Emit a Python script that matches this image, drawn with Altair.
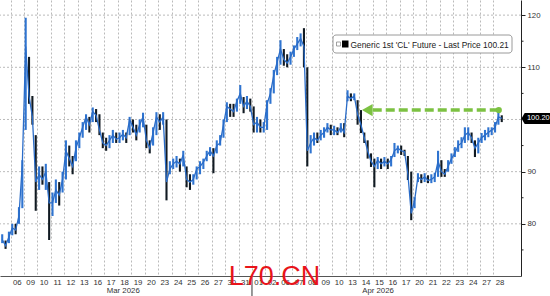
import altair as alt
import pandas as pd

# ---------------- data ----------------
day_labels = ["06", "09", "10", "11", "12", "13", "16", "17", "18", "19", "20", "23", "24", "25",
              "26", "27", "30", "31", "01", "02", "06", "07", "08", "09", "10", "13", "14", "15",
              "16", "17", "20", "21", "22", "23", "24", "27", "28"]
month_labels = ["Mar 2026", "Apr 2026"]
month_centers = [8.4, 27.4]      # trading-day units
month_start = [18]               # first trading day of April

# quarter-day bars, one row per trading day (first row: Mar 05, partly visible)
close_by_day = [
    [77.0, 75.8, 77.5],
    [79.2, 78.8, 81.5, 91.5],
    [114.0, 104.5, 100.5, 88.0],
    [89.5, 88.5, 90.0, 84.0],
    [84.0, 86.5, 85.5, 88.5],
    [94.0, 92.5, 91.0, 94.5],
    [96.5, 98.5, 100.5, 99.0],
    [101.5, 100.8, 98.0, 95.5],
    [95.0, 96.0, 97.0, 96.2],
    [96.5, 97.2, 96.5, 100.0],
    [98.5, 97.0, 99.0, 100.5],
    [96.0, 94.5, 97.5, 100.5],
    [99.5, 100.5, 88.0, 90.5],
    [91.5, 92.0, 91.5, 93.2],
    [88.5, 88.0, 88.5, 90.5],
    [91.0, 91.8, 93.0, 94.0],
    [93.0, 95.0, 95.5, 99.0],
    [102.5, 102.0, 101.5, 103.5],
    [105.0, 102.5, 103.5, 102.5],
    [99.0, 99.5, 98.5, 98.5],
    [103.0, 105.0, 108.5, 111.0],
    [113.5, 111.5, 110.8, 112.0],
    [113.5, 114.5, 115.5, 114.0],
    [94.0, 95.5, 96.5, 96.0],
    [97.0, 97.5, 98.5, 98.0],
    [98.0, 97.5, 98.5, 97.5],
    [104.5, 104.0, 104.5, 101.0],
    [99.0, 96.5, 94.0, 92.0],
    [91.0, 92.2, 91.5, 92.0],
    [91.5, 92.3, 94.0, 94.5],
    [94.0, 93.8, 89.5, 82.0],
    [84.5, 89.0, 88.5, 89.0],
    [88.3, 88.5, 89.0, 92.0],
    [90.0, 89.5, 91.0, 92.5],
    [93.5, 95.0, 95.5, 97.0],
    [97.5, 96.5, 94.5, 95.5],
    [96.5, 97.0, 97.5, 98.0],
    [98.5, 100.5, 100.2],
]
high_by_day = [
    [78.0, 76.8, 78.5],
    [80.0, 80.0, 83.2, 92.2],
    [119.5, 112.0, 104.5, 97.0],
    [91.0, 91.0, 91.5, 88.0],
    [86.0, 88.5, 88.0, 90.0],
    [96.0, 95.0, 93.0, 96.0],
    [97.5, 99.5, 101.0, 100.5],
    [102.3, 102.0, 101.0, 97.5],
    [96.5, 97.0, 98.0, 97.5],
    [97.5, 98.0, 97.5, 100.5],
    [100.0, 99.0, 100.0, 101.3],
    [99.0, 96.0, 98.5, 101.4],
    [101.0, 101.4, 100.0, 92.0],
    [92.5, 93.0, 92.5, 94.0],
    [91.0, 89.5, 89.5, 91.0],
    [92.0, 92.5, 94.0, 94.7],
    [94.5, 96.0, 97.0, 100.0],
    [103.3, 103.0, 103.0, 104.0],
    [106.6, 104.3, 104.5, 104.0],
    [102.5, 100.5, 100.0, 99.5],
    [103.7, 106.0, 109.5, 112.0],
    [115.2, 113.5, 112.5, 113.0],
    [114.2, 115.8, 116.5, 117.5],
    [110.0, 97.0, 97.5, 97.5],
    [98.0, 98.5, 99.3, 99.0],
    [98.8, 98.5, 99.3, 99.3],
    [105.6, 105.0, 105.0, 103.7],
    [101.8, 97.5, 96.0, 93.5],
    [92.5, 92.8, 92.5, 92.8],
    [92.5, 93.0, 95.5, 95.0],
    [95.0, 94.2, 93.0, 90.0],
    [85.1, 89.7, 89.5, 89.7],
    [89.3, 89.5, 89.8, 94.0],
    [92.2, 90.5, 92.2, 93.5],
    [94.7, 96.0, 96.6, 98.5],
    [98.5, 97.5, 96.0, 96.5],
    [97.4, 98.0, 98.5, 98.5],
    [99.5, 101.5, 100.8],
]
low_by_day = [
    [76.3, 75.2, 76.3],
    [77.8, 78.0, 80.0, 83.0],
    [98.0, 103.0, 99.0, 82.5],
    [86.5, 87.5, 86.5, 76.9],
    [81.5, 84.0, 83.5, 86.0],
    [88.5, 91.0, 89.5, 92.0],
    [94.5, 96.5, 98.0, 97.5],
    [99.5, 99.5, 97.0, 94.5],
    [94.0, 94.5, 95.5, 95.5],
    [95.5, 96.0, 95.5, 97.0],
    [97.5, 96.0, 97.5, 98.5],
    [94.5, 93.5, 95.0, 97.0],
    [98.0, 99.0, 84.5, 89.5],
    [90.5, 90.8, 90.0, 91.0],
    [87.0, 86.5, 87.5, 88.5],
    [89.5, 90.5, 92.0, 93.0],
    [89.7, 93.5, 95.0, 96.5],
    [99.5, 100.5, 100.5, 101.5],
    [103.0, 101.2, 102.0, 101.5],
    [97.5, 97.5, 97.5, 97.5],
    [98.0, 103.0, 105.0, 108.5],
    [110.5, 110.3, 110.0, 110.5],
    [112.0, 113.3, 114.0, 110.0],
    [91.0, 93.5, 95.0, 95.5],
    [96.0, 96.5, 97.5, 97.0],
    [97.0, 97.0, 97.5, 96.6],
    [103.5, 103.5, 103.7, 99.0],
    [97.4, 95.5, 92.5, 90.9],
    [87.0, 90.5, 90.5, 91.0],
    [90.5, 91.0, 92.8, 93.5],
    [93.2, 93.0, 88.4, 80.7],
    [83.0, 88.0, 87.8, 88.0],
    [87.8, 87.8, 88.0, 89.0],
    [89.0, 89.0, 90.0, 91.5],
    [92.8, 93.8, 94.5, 95.5],
    [96.0, 95.5, 92.8, 93.5],
    [95.5, 96.0, 96.6, 97.0],
    [97.5, 99.0, 99.5],
]

y_ticks = [80, 90, 110, 120]
y_minor = [75, 85, 95, 105, 115]
grid_levels = [80, 90, 100, 110, 120]
last_price = 100.20
legend_text = "Generic 1st 'CL' Future - Last Price 100.21"
arrow_from, arrow_to, arrow_level = 36.4, 26.6, 101.8
watermark = "L70.CN"

# ---------------- build table ----------------
rows = []
for d, (cs, hs, ls) in enumerate(zip(close_by_day, high_by_day, low_by_day)):
    day = d - 1
    first = 4 - len(cs) if d == 0 else 0
    for k, (c, h, l) in enumerate(zip(cs, hs, ls)):
        rows.append({"t": day + (first + k) * 0.25 + 0.125, "close": c, "high": h, "low": l})
df = pd.DataFrame(rows)
df["dir"] = ["up" if i == 0 or df.close[i] >= df.close[i - 1] else "down" for i in range(len(df))]

FONT = "Liberation Sans"
W, H = 521, 276
xs = alt.Scale(domain=[-0.79, 38.06], nice=False, zero=False)
ys = alt.Scale(domain=[70, 122.9], nice=False, zero=False)

x_axis = alt.Axis(values=list(range(0, 37)), labels=False, ticks=False, grid=True,
                  gridDash=[2, 2], gridColor="#a8a8a8", gridWidth=0.8, domain=True,
                  domainColor="#555555", title=None)
y_axis = alt.Axis(orient="right", values=y_ticks, grid=False, tickSize=4, tickColor="#222222",
                  domainColor="#222222", labelFont=FONT, labelFontSize=7.8, labelColor="#333333",
                  labelPadding=2, title=None)

hgrid = alt.Chart(pd.DataFrame({"lvl": grid_levels})).mark_rule(
    color="#a8a8a8", strokeDash=[2, 2], strokeWidth=0.8
).encode(y=alt.Y("lvl:Q", scale=ys, axis=y_axis))

bars = alt.Chart(df).mark_rule(strokeWidth=2.1, clip=True).encode(
    x=alt.X("t:Q", scale=xs, axis=x_axis),
    y=alt.Y("low:Q", scale=ys, axis=y_axis),
    y2="high:Q",
    color=alt.Color("dir:N", scale=alt.Scale(domain=["up", "down"], range=["#2f74d0", "#111a22"]),
                    legend=None),
)

line = alt.Chart(df).mark_line(color="#2a6cc8", strokeWidth=1.3, clip=True).encode(
    x=alt.X("t:Q", scale=xs, axis=x_axis), y=alt.Y("close:Q", scale=ys, axis=y_axis)
)

minor = alt.Chart(pd.DataFrame({"lvl": y_minor})).mark_rule(color="#222222", strokeWidth=1).encode(
    y=alt.Y("lvl:Q", scale=ys, axis=y_axis), x=alt.value(W), x2=alt.value(W + 2.5)
)

arrow_df = pd.DataFrame({"a": [arrow_from], "b": [arrow_to + 0.3], "lvl": [arrow_level],
                         "head": [arrow_to]})
arrow_line = alt.Chart(arrow_df).mark_rule(color="#7cc142", strokeWidth=3.5, strokeDash=[9, 4]).encode(
    x=alt.X("a:Q", scale=xs, axis=x_axis), x2="b:Q", y=alt.Y("lvl:Q", scale=ys, axis=y_axis)
)
arrow_head = alt.Chart(arrow_df).mark_point(shape="triangle-left", filled=True, size=150,
                                            color="#7cc142", opacity=1).encode(
    x=alt.X("head:Q", scale=xs, axis=x_axis), y=alt.Y("lvl:Q", scale=ys, axis=y_axis)
)
arrow_dot = alt.Chart(arrow_df).mark_point(shape="circle", filled=True, size=40,
                                           color="#7cc142", opacity=1).encode(
    x=alt.X("a:Q", scale=xs, axis=x_axis), y=alt.Y("lvl:Q", scale=ys, axis=y_axis)
)

badge_df = pd.DataFrame({"p": [last_price], "txt": [f"{last_price:.2f}"]})
badge = alt.Chart(badge_df).mark_point(
    shape="M-1,0L-0.78,-0.38L1,-0.38L1,0.38L-0.78,0.38Z", size=841, filled=True,
    color="#000000", opacity=1
).encode(x=alt.value(W + 15), y=alt.Y("p:Q", scale=ys, axis=y_axis))
badge_txt = alt.Chart(badge_df).mark_text(font=FONT, fontSize=7.4, color="#ffffff",
                                          align="left", baseline="middle").encode(
    x=alt.value(W + 6), y=alt.Y("p:Q", scale=ys, axis=y_axis), text="txt:N"
)

leg_df = pd.DataFrame({"txt": [legend_text]})
leg_box = alt.Chart(leg_df).mark_rect(fill="#ffffff", stroke="#9a9a9a", strokeWidth=1,
                                      cornerRadius=3).encode(
    x=alt.value(333), x2=alt.value(512), y=alt.value(35), y2=alt.value(53)
)
leg_icon1 = alt.Chart(leg_df).mark_rect(fill="#ffffff", stroke="#888888", strokeWidth=0.8).encode(
    x=alt.value(336.5), x2=alt.value(340.5), y=alt.value(42), y2=alt.value(46)
)
leg_icon2 = alt.Chart(leg_df).mark_rect(fill="#000000").encode(
    x=alt.value(342), x2=alt.value(348.5), y=alt.value(40.5), y2=alt.value(47.5)
)
leg_text = alt.Chart(leg_df).mark_text(font=FONT, fontSize=8.4, color="#222222", align="left",
                                       baseline="middle").encode(
    x=alt.value(350.5), y=alt.value(44.5), text="txt:N"
)

lab_df = pd.DataFrame({"t": [i + 0.5 for i in range(len(day_labels))], "lab": day_labels})
xlabels = alt.Chart(lab_df).mark_text(font=FONT, fontSize=7.8, color="#333333",
                                      baseline="middle").encode(
    x=alt.X("t:Q", scale=xs, axis=x_axis), y=alt.value(H + 6.5), text="lab:N"
)
mon_df = pd.DataFrame({"t": month_centers, "lab": month_labels})
mlabels = alt.Chart(mon_df).mark_text(font=FONT, fontSize=7.8, color="#333333",
                                      baseline="middle").encode(
    x=alt.X("t:Q", scale=xs, axis=x_axis), y=alt.value(H + 15), text="lab:N"
)
msep = alt.Chart(pd.DataFrame({"t": month_start})).mark_rule(color="#333333", strokeWidth=1).encode(
    x=alt.X("t:Q", scale=xs, axis=x_axis), y=alt.value(H), y2=alt.value(H + 20)
)

wm = alt.Chart(pd.DataFrame({"txt": [watermark]})).mark_text(
    font=FONT, fontSize=27, color="#e8141a", align="center", baseline="alphabetic"
).encode(x=alt.value(274.5), y=alt.value(285), text="txt:N")

chart = alt.layer(
    hgrid, bars, line, minor, arrow_line, arrow_head, arrow_dot,
    leg_box, leg_icon1, leg_icon2, leg_text, badge, badge_txt,
    xlabels, mlabels, msep, wm
).properties(
    width=W, height=H, autosize=alt.AutoSizeParams(type="none"),
    padding={"left": 0, "top": 0, "right": 550 - W, "bottom": 296 - H},
    background="#ffffff"
).configure_view(stroke=None)

chart.save("out.html", embed_options={"renderer": "svg", "actions": False})
